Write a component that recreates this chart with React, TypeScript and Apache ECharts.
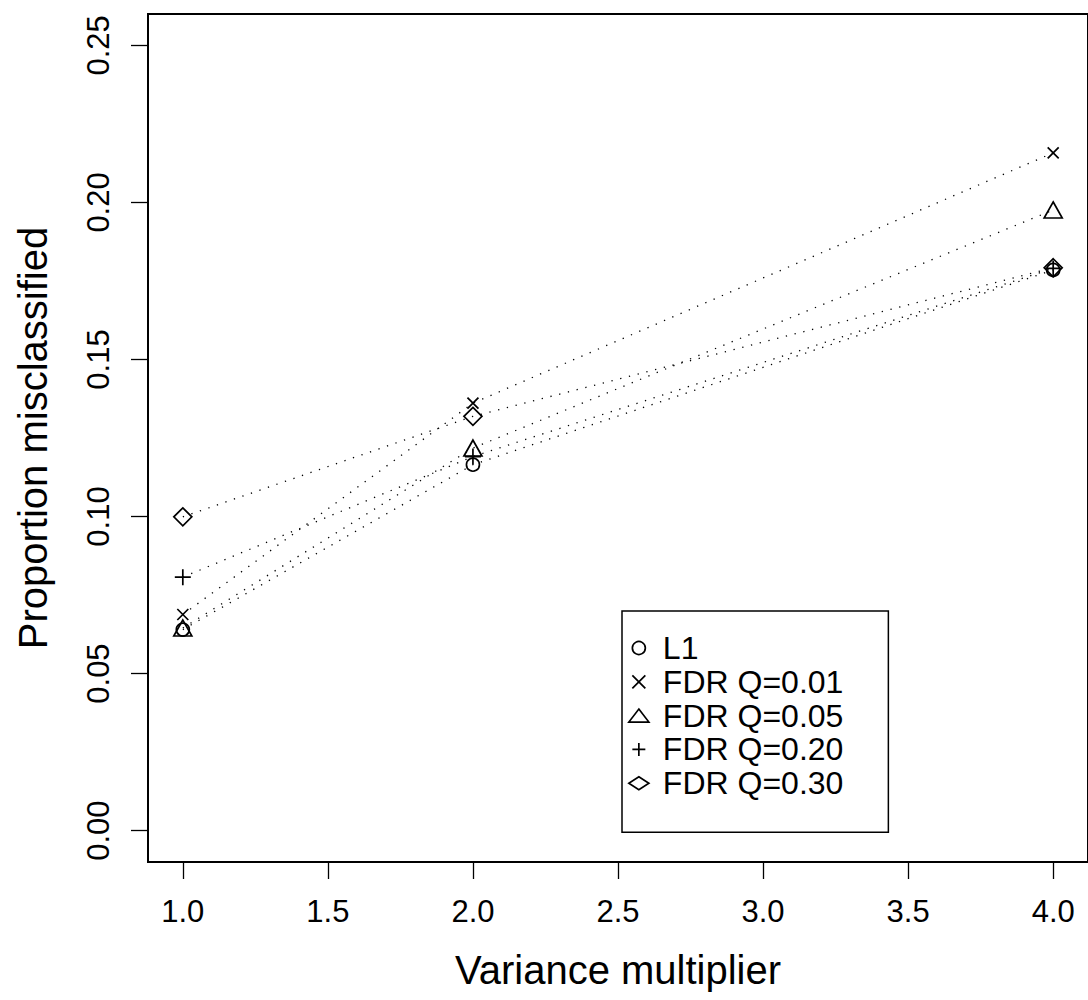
import React, { useEffect, useRef } from "react";
import * as echarts from "echarts";

const varianceMultiplier = [1, 2, 4];
const seriesNames = ["L1", "FDR Q=0.01", "FDR Q=0.05", "FDR Q=0.20", "FDR Q=0.30"];
const l1 = [0.064, 0.1165, 0.1785];
const fdr001 = [0.0688, 0.1361, 0.2158];
const fdr005 = [0.0645, 0.1218, 0.1976];
const fdr020 = [0.0807, 0.1191, 0.179];
const fdr030 = [0.0999, 0.1319, 0.1792];
const xTicks = [1, 1.5, 2, 2.5, 3, 3.5, 4];
const yTicks = [0, 0.05, 0.1, 0.15, 0.2, 0.25];

const allValues = [l1, fdr001, fdr005, fdr020, fdr030];
const CROSS = "path://M0,0L10,10M10,0L0,10";
const PLUS = "path://M5,0L5,10M0,5L10,5";
const symbols = ["circle", CROSS, "triangle", PLUS, "diamond"];
const symbolSizes: any[] = [13, 11, [18, 16], 16, 18];
const legendIcons = ["circle", CROSS, "triangle", PLUS, "diamond"];

const FONT = "Liberation Sans, Arial, Helvetica, sans-serif";

export default function App() {
  const ref = useRef<HTMLDivElement>(null);
  useEffect(() => {
    if (!ref.current) return;
    const chart = echarts.init(ref.current, null, { renderer: "svg" });
    const markerStyle = {
      color: "rgba(0,0,0,0)",
      borderColor: "#000",
      borderWidth: 1.7,
    };
    const option: any = {
      animation: false,
      backgroundColor: "#fff",
      textStyle: { fontFamily: FONT, color: "#000" },
      grid: {
        show: true,
        left: 148,
        top: 14,
        width: 949,
        height: 848,
        borderColor: "#000",
        borderWidth: 2,
        backgroundColor: "rgba(0,0,0,0)",
      },
      xAxis: {
        type: "value",
        min: 0.88,
        max: 4.12,
        position: "bottom",
        name: "Variance multiplier",
        nameLocation: "middle",
        nameGap: 88,
        nameTextStyle: { fontSize: 40, color: "#000", fontFamily: FONT },
        axisLine: { show: true, onZero: false, lineStyle: { color: "#000", width: 2 } },
        splitLine: { show: false },
        axisTick: {
          show: true,
          inside: false,
          length: 17,
          customValues: xTicks,
          lineStyle: { color: "#000", width: 1.3 },
        },
        axisLabel: {
          customValues: xTicks,
          fontSize: 31,
          color: "#000",
          fontFamily: FONT,
          margin: 34,
          formatter: (v: number) => v.toFixed(1),
        },
      },
      yAxis: {
        type: "value",
        min: -0.01,
        max: 0.26,
        position: "left",
        name: "Proportion misclassified",
        nameLocation: "middle",
        nameGap: 95,
        nameTextStyle: { fontSize: 40, color: "#000", fontFamily: FONT },
        axisLine: { show: true, onZero: false, lineStyle: { color: "#000", width: 2 } },
        splitLine: { show: false },
        axisTick: {
          show: true,
          inside: false,
          length: 17,
          customValues: yTicks,
          lineStyle: { color: "#000", width: 1.3 },
        },
        axisLabel: {
          customValues: yTicks,
          fontSize: 31,
          color: "#000",
          fontFamily: FONT,
          margin: 34,
          rotate: 90,
          formatter: (v: number) => v.toFixed(2),
        },
      },
      legend: {
        show: true,
        orient: "vertical",
        left: 622,
        top: 611,
        padding: [21, 45, 33, 6],
        itemGap: 1.8,
        itemWidth: 20,
        itemHeight: 13,
        borderColor: "#000",
        borderWidth: 1.5,
        backgroundColor: "#fff",
        selectedMode: false,
        textStyle: {
          fontSize: 32,
          lineHeight: 29.3,
          color: "#000",
          fontFamily: FONT,
          padding: [0, 0, 0, 9],
        },
        data: seriesNames.map((n, i) => ({
          name: n,
          icon: legendIcons[i],
          itemStyle: markerStyle,
        })),
      },
      series: seriesNames.map((n, i) => ({
        name: n,
        type: "line",
        data: varianceMultiplier.map((x, j) => [x, allValues[i][j]]),
        symbol: symbols[i],
        symbolSize: symbolSizes[i],
        showSymbol: true,
        showAllSymbol: true,
        itemStyle: markerStyle,
        lineStyle: { color: "#000", width: 1.3, type: [1.3, 7.7] },
        emphasis: { disabled: true },
      })),
    };
    chart.setOption(option);
    return () => chart.dispose();
  }, []);
  return (
    <div
      ref={ref}
      style={{ position: "absolute", left: 0, top: 0, width: 1088, height: 1000 }}
    />
  );
}
